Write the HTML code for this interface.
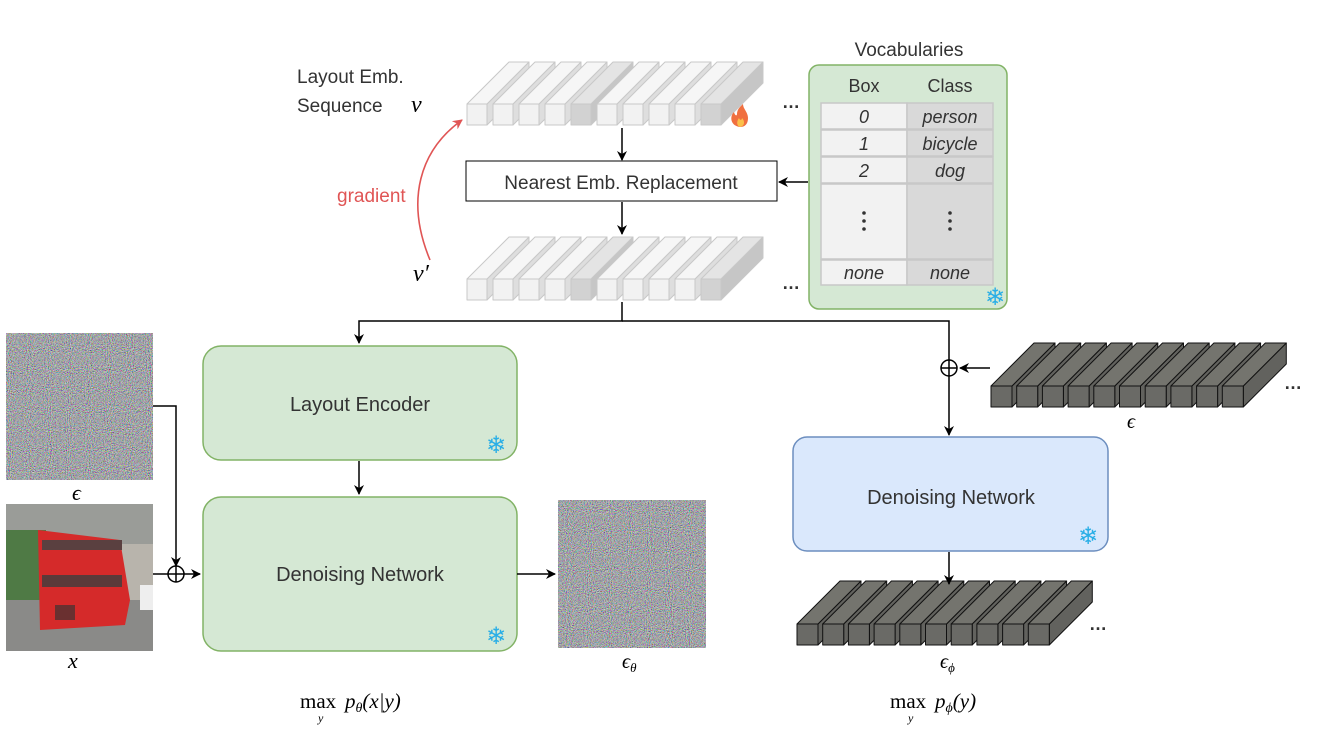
<!DOCTYPE html>
<html><head><meta charset="utf-8"><style>
html,body{margin:0;padding:0;background:#fff;width:1344px;height:732px;overflow:hidden}
text{font-family:"Liberation Sans","DejaVu Sans",sans-serif;fill:#333}
.m{font-family:"Liberation Serif",serif;font-style:italic;fill:#000}
</style></head><body>
<svg id="s" width="1344" height="732" viewBox="0 0 1344 732" xmlns="http://www.w3.org/2000/svg">
<defs>
<filter id="nz" x="0" y="0" width="100%" height="100%">
<feTurbulence type="fractalNoise" baseFrequency="0.95" numOctaves="2" seed="3"/>
<feColorMatrix type="matrix" values="1.3 0 0 0 -0.28  0 1.3 0 0 -0.27  0 0 1.3 0 -0.25  0 0 0 0 1"/>
</filter>
<marker id="ar" markerWidth="10" markerHeight="10" refX="9" refY="5" orient="auto" markerUnits="userSpaceOnUse"><path d="M0,0 L10,5 L0,10 L3,5 z" fill="#000"/></marker>
<marker id="arr" markerWidth="10" markerHeight="10" refX="9" refY="5" orient="auto" markerUnits="userSpaceOnUse"><path d="M0,0 L10,5 L0,10 L3,5 z" fill="#e05555"/></marker>
</defs>
<g id="cubes"></g>

<text x="297" y="83" font-size="19">Layout Emb.</text>
<text x="297" y="112" font-size="19">Sequence</text>
<text class="m" x="411" y="112" font-size="24">v</text>
<text class="m" x="413" y="281" font-size="24">v′</text>
<text x="337" y="202" font-size="19" style="fill:#e05555">gradient</text>
<path d="M430,260 C405,200 420,150 462,120" fill="none" stroke="#e05555" stroke-width="1.6" marker-end="url(#arr)"/>

<rect x="466" y="161" width="311" height="40" fill="#fff" stroke="#000" stroke-width="1"/>
<text x="621" y="189" font-size="19" text-anchor="middle">Nearest Emb. Replacement</text>
<line x1="622" y1="128" x2="622" y2="160" stroke="#000" stroke-width="1.5" marker-end="url(#ar)"/>
<line x1="622" y1="202" x2="622" y2="234" stroke="#000" stroke-width="1.5" marker-end="url(#ar)"/>
<line x1="808" y1="182" x2="779" y2="182" stroke="#000" stroke-width="1.5" marker-end="url(#ar)"/>
<text x="782" y="108" font-size="18" font-weight="bold">…</text>
<text x="782" y="289" font-size="18" font-weight="bold">…</text>

<text x="909" y="56" font-size="19" text-anchor="middle">Vocabularies</text>
<rect x="809" y="65" width="198" height="244" rx="10" fill="#d5e8d4" stroke="#82b366" stroke-width="1.5"/>
<text x="864" y="92" font-size="18" text-anchor="middle">Box</text>
<text x="950" y="92" font-size="18" text-anchor="middle">Class</text>
<g stroke="#c8c8c8" stroke-width="1.5">
<rect x="821" y="103" width="86" height="26" fill="#f2f2f2"/><rect x="907" y="103" width="86" height="26" fill="#d9d9d9"/>
<rect x="821" y="130" width="86" height="26" fill="#f2f2f2"/><rect x="907" y="130" width="86" height="26" fill="#d9d9d9"/>
<rect x="821" y="157" width="86" height="26" fill="#f2f2f2"/><rect x="907" y="157" width="86" height="26" fill="#d9d9d9"/>
<rect x="821" y="184" width="86" height="75" fill="#f2f2f2"/><rect x="907" y="184" width="86" height="75" fill="#d9d9d9"/>
<rect x="821" y="260" width="86" height="25" fill="#f2f2f2"/><rect x="907" y="260" width="86" height="25" fill="#d9d9d9"/>
</g>
<g font-size="18" font-style="italic" text-anchor="middle">
<text x="864" y="123">0</text><text x="950" y="123">person</text>
<text x="864" y="150">1</text><text x="950" y="150">bicycle</text>
<text x="864" y="177">2</text><text x="950" y="177">dog</text>
<text x="864" y="279">none</text><text x="950" y="279">none</text>
</g>
<g fill="#333"><circle cx="864" cy="213" r="1.8"/><circle cx="864" cy="221" r="1.8"/><circle cx="864" cy="229" r="1.8"/>
<circle cx="950" cy="213" r="1.8"/><circle cx="950" cy="221" r="1.8"/><circle cx="950" cy="229" r="1.8"/></g>

<polyline points="622,302 622,321 359,321 359,343" fill="none" stroke="#000" stroke-width="1.5" marker-end="url(#ar)"/>
<polyline points="622,321 949,321 949,435" fill="none" stroke="#000" stroke-width="1.5" marker-end="url(#ar)"/>
<line x1="990" y1="368" x2="960" y2="368" stroke="#000" stroke-width="1.5" marker-end="url(#ar)"/>
<circle cx="949" cy="368" r="8" fill="#fff" stroke="#000" stroke-width="1.5"/>
<line x1="941" y1="368" x2="957" y2="368" stroke="#000" stroke-width="1.5"/><line x1="949" y1="360" x2="949" y2="376" stroke="#000" stroke-width="1.5"/>

<rect x="203" y="346" width="314" height="114" rx="18" fill="#d5e8d4" stroke="#82b366" stroke-width="1.5"/>
<text x="360" y="411" font-size="20" text-anchor="middle">Layout Encoder</text>
<rect x="203" y="497" width="314" height="154" rx="18" fill="#d5e8d4" stroke="#82b366" stroke-width="1.5"/>
<text x="360" y="581" font-size="20" text-anchor="middle">Denoising Network</text>
<rect x="793" y="437" width="315" height="114" rx="14" fill="#dae8fc" stroke="#6c8ebf" stroke-width="1.5"/>
<text x="951" y="504" font-size="20" text-anchor="middle">Denoising Network</text>
<g font-size="24" text-anchor="middle">
<text x="496" y="453" style="fill:#29aee6">❄</text><text x="496" y="644" style="fill:#29aee6">❄</text>
<text x="1088" y="544" style="fill:#29aee6">❄</text><text x="995" y="305" style="fill:#29aee6">❄</text>
</g>
<line x1="359" y1="461" x2="359" y2="494" stroke="#000" stroke-width="1.5" marker-end="url(#ar)"/>
<line x1="949" y1="552" x2="949" y2="584" stroke="#000" stroke-width="1.5" marker-end="url(#ar)"/>

<rect x="6" y="333" width="147" height="147" filter="url(#nz)"/>
<text class="m" x="72" y="500" font-size="22">ϵ</text>
<g>
<rect x="6" y="504" width="147" height="147" fill="#b8b4ac"/>
<rect x="6" y="504" width="147" height="40" fill="#9a9c98"/>
<rect x="6" y="530" width="40" height="70" fill="#4f7a45"/>
<rect x="6" y="600" width="147" height="51" fill="#8a8a88"/>
<path d="M38,530 L120,540 L130,600 L125,625 L40,630 Z" fill="#d52a2a"/>
<rect x="42" y="540" width="80" height="10" fill="#5a4040"/>
<rect x="42" y="575" width="80" height="12" fill="#5a3a3a"/>
<rect x="55" y="605" width="20" height="15" fill="#6a3030"/>
<rect x="140" y="585" width="13" height="25" fill="#eee"/>
</g>
<text class="m" x="68" y="668" font-size="22">x</text>
<polyline points="153,406 176,406 176,566" fill="none" stroke="#000" stroke-width="1.5" marker-end="url(#ar)"/>
<line x1="153" y1="574" x2="200" y2="574" stroke="#000" stroke-width="1.5" marker-end="url(#ar)"/>
<circle cx="176" cy="574" r="8" fill="#fff" stroke="#000" stroke-width="1.5"/>
<line x1="168" y1="574" x2="184" y2="574" stroke="#000" stroke-width="1.5"/><line x1="176" y1="566" x2="176" y2="582" stroke="#000" stroke-width="1.5"/>
<line x1="517" y1="574" x2="555" y2="574" stroke="#000" stroke-width="1.5" marker-end="url(#ar)"/>
<rect x="558" y="500" width="148" height="148" filter="url(#nz)"/>
<text class="m" x="622" y="668" font-size="20">ϵ<tspan font-size="13" dy="4">θ</tspan></text>
<text class="m" x="1127" y="428" font-size="20">ϵ</text>
<text class="m" x="940" y="668" font-size="20">ϵ<tspan font-size="13" dy="4">ϕ</tspan></text>
<text x="1284" y="389" font-size="18" font-weight="bold">…</text>
<text x="1089" y="630" font-size="18" font-weight="bold">…</text>

<text x="300" y="708" font-size="21" style="font-family:'Liberation Serif',serif;fill:#000">max</text>
<text class="m" x="318" y="722" font-size="12">y</text>
<text class="m" x="345" y="708" font-size="21">p<tspan font-size="14" dy="4">θ</tspan><tspan dy="-4">(x|y)</tspan></text>
<text x="890" y="708" font-size="21" style="font-family:'Liberation Serif',serif;fill:#000">max</text>
<text class="m" x="908" y="722" font-size="12">y</text>
<text class="m" x="935" y="708" font-size="21">p<tspan font-size="14" dy="4">ϕ</tspan><tspan dy="-4">(y)</tspan></text>
<g id="fl">
<path d="M740,127 C731,126 729,117 734,112 C735,116 737,116 737,114 C737,109 741,106 743,104 C743,109 748,112 748,118 C748,124 745,127 740,127 z" fill="#f07040"/>
<path d="M740,127 C737,126 736,122 739,118 C740,121 742,120 742,118 C745,121 745,126 740,127z" fill="#fbc04a"/>
</g>
</svg>
<script>
var g=document.getElementById('cubes'),NS='http://www.w3.org/2000/svg';
function poly(pts,fill,stroke){var p=document.createElementNS(NS,'polygon');p.setAttribute('points',pts);p.setAttribute('fill',fill);p.setAttribute('stroke',stroke);p.setAttribute('stroke-width','1');p.setAttribute('stroke-linejoin','round');g.appendChild(p);}
function row(x0,yb,w,h,dx,dy,n,sp,noise,shade){
 for(var i=0;i<n;i++){var x=x0+i*sp,yt=yb-h;
  var dark=shade.indexOf(i)>=0;
  var cf=noise?'#6a6a66':(dark?'#d2d2d2':'#f2f2f2');
  var ct=noise?'#74746e':(dark?'#e4e4e4':'#f6f6f6');
  var cs=noise?'#62625e':(dark?'#c6c6c6':'#dedede');
  var st=noise?'#111':'#c8c8c8';
  poly((x+w)+','+yt+' '+(x+w+dx)+','+(yt+dy)+' '+(x+w+dx)+','+(yb+dy)+' '+(x+w)+','+yb,cs,st);
  poly(x+','+yt+' '+(x+dx)+','+(yt+dy)+' '+(x+w+dx)+','+(yt+dy)+' '+(x+w)+','+yt,ct,st);
  poly(x+','+yt+' '+(x+w)+','+yt+' '+(x+w)+','+yb+' '+x+','+yb,cf,st);
 }}
row(467,125,20,21,42,-42,10,26,false,[4,9]);
row(467,300,20,21,42,-42,10,26,false,[4,9]);
row(991,407,21,21,43,-43,10,25.7,true,[]);
row(797,645,21,21,43,-43,10,25.7,true,[]);
</script>
</body></html>
